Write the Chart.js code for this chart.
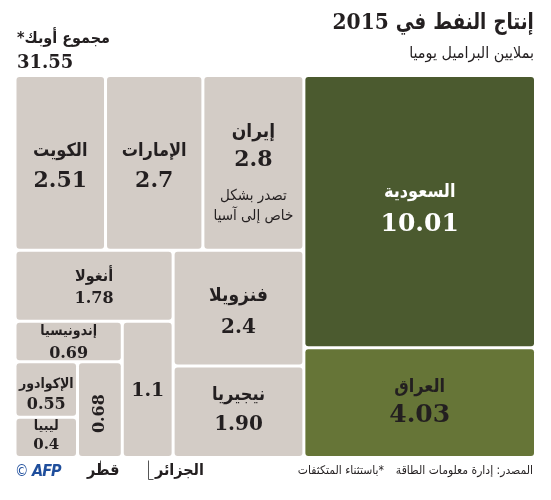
<!DOCTYPE html>
<html><head><meta charset="utf-8">
<script src="https://cdn.jsdelivr.net/npm/chart.js@4"></script>
<style>
html,body{margin:0;padding:0;background:#fff;}
#wrap{position:relative;width:551px;height:500px;overflow:hidden;}
canvas{position:absolute;left:0;top:0;}
.t{position:absolute;white-space:nowrap;color:#231f20;font-family:"DejaVu Serif","DejaVu Sans Condensed","DejaVu Sans",sans-serif;line-height:1;}
.a{font-family:"DejaVu Sans Condensed","DejaVu Sans",sans-serif;}
</style></head><body>
<div id="wrap">
<canvas id="c" width="551" height="500"></canvas>
<div class="t" dir="rtl" style="right:17px;top:9px;font-size:23px;font-weight:bold;transform:scaleX(0.88);transform-origin:right center;">إنتاج النفط في 2015</div>
<div class="t a" dir="rtl" style="right:17px;top:45px;font-size:16px;">بملايين البراميل يوميا</div>
<div class="t a" dir="rtl" style="left:17px;top:30px;font-size:16px;font-weight:bold;">مجموع أوبك*</div>
<div class="t" style="left:17px;top:53px;font-size:18px;font-weight:bold;">31.55</div>
<div class="t a" dir="rtl" style="right:18px;top:464px;font-size:12px;">المصدر: إدارة معلومات الطاقة</div>
<div class="t a" dir="rtl" style="right:167px;top:464px;font-size:12px;">*باستثناء المتكثفات</div>
<div class="t a" dir="rtl" style="left:155px;top:462px;font-size:16px;font-weight:bold;">الجزائر</div>
<div class="t a" dir="rtl" style="left:87px;top:462px;font-size:16px;font-weight:bold;">قطر</div>
<div class="t a" style="left:15px;top:464px;font-size:15px;color:#1f4e9c;">©</div>
<div class="t a" style="left:32px;top:463px;font-size:16px;font-weight:bold;font-style:italic;color:#1f4e9c;letter-spacing:-1px;">AFP</div>
</div>
<script>
// ---- data ----
const countries = ['السعودية','العراق','إيران','الإمارات','الكويت','فنزويلا','نيجيريا','أنغولا','الجزائر','إندونيسيا','قطر','الإكوادور','ليبيا'];
const values    = [10.01, 4.03, 2.8, 2.7, 2.51, 2.4, 1.90, 1.78, 1.1, 0.69, 0.68, 0.55, 0.4];
const valueLabels = ['10.01','4.03','2.8','2.7','2.51','2.4','1.90','1.78','1.1','0.69','0.68','0.55','0.4'];
const notes = {2: ['تصدر بشكل','خاص إلى آسيا']};
const outsideNames = [8, 10]; // names written below the treemap

// arrangement: 'row' splits left->right, 'col' splits top->bottom; leaves are indices
const tree = ['row',
  ['col',
    ['row', 4, 3, 2],
    ['row',
      ['col', 7,
        ['row',
          ['col', 9, ['row', ['col', 11, 12], 10]],
          8]],
      ['col', 5, 6]]],
  ['col', 0, 1]];

// ---- styles ----
const grey = '#d3ccc6', saudi = '#4b5a2f', iraq = '#667537';
const fills = values.map((v,i)=> i===0 ? saudi : (i===1 ? iraq : grey));
const AR = '"DejaVu Sans Condensed", "DejaVu Sans", sans-serif', NUM = '"DejaVu Serif", serif';
const labelStyle = {
  0:{ns:18,nd:-19,vs:25,vd:13,c:'#ffffff'},
  1:{ns:18,nd:-15,vs:25,vd:13,c:'#231f20'},
  2:{ns:19,nd:-31,vs:22,vd:-3,c:'#231f20',ts:15,td:[33,53]},
  3:{ns:18,nd:-12,vs:22,vd:18,c:'#231f20'},
  4:{ns:18,nd:-12,vs:22,vd:18,c:'#231f20'},
  5:{ns:19,nd:-12,vs:20,vd:20,c:'#231f20'},
  6:{ns:18,nd:-16,vs:20,vd:13,c:'#231f20'},
  7:{ns:16,nd:-9,vs:16,vd:13,c:'#231f20'},
  8:{vs:19,vd:2,c:'#231f20'},
  9:{ns:14,nd:-10,vs:16,vd:12,c:'#231f20'},
  10:{vs:16,vd:4,c:'#231f20',rot:true},
  11:{ns:14,nd:-5,vs:16,vd:15,c:'#231f20'},
  12:{ns:14,nd:-11,vs:15,vd:8,c:'#231f20'}
};

function nodeSum(n){ return Array.isArray(n) ? n.slice(1).reduce((s,c)=>s+nodeSum(c),0) : values[n]; }
const rects = [];
function layout(n, x0, y0, x1, y1){
  if(!Array.isArray(n)){ rects[n] = {x0,y0,x1,y1}; return; }
  const kids = n.slice(1), tot = nodeSum(n);
  let acc = 0;
  kids.forEach(k=>{
    const f0 = acc/tot; acc += nodeSum(k); const f1 = acc/tot;
    if(n[0]==='row') layout(k, x0+(x1-x0)*f0, y0, x0+(x1-x0)*f1, y1);
    else layout(k, x0, y0+(y1-y0)*f0, x1, y0+(y1-y0)*f1);
  });
}
layout(tree, 0, 0, 1, 1);

const treemapPlugin = {
  id:'treemap',
  afterDatasetsDraw(chart){
    const xs = chart.scales.x, ys = chart.scales.y, ctx = chart.ctx;
    const g = 1.5;
    ctx.save();
    rects.forEach((r,i)=>{
      const X0 = xs.getPixelForValue(r.x0)+g, X1 = xs.getPixelForValue(r.x1)-g;
      const Y0 = ys.getPixelForValue(r.y0)+g, Y1 = ys.getPixelForValue(r.y1)-g;
      ctx.fillStyle = fills[i];
      ctx.beginPath(); ctx.roundRect(X0, Y0, X1-X0, Y1-Y0, 3); ctx.fill();
      const cx = (X0+X1)/2, cy = (Y0+Y1)/2, s = labelStyle[i];
      ctx.fillStyle = s.c; ctx.textAlign = 'center'; ctx.textBaseline = 'middle';
      if(s.ns && !outsideNames.includes(i)){
        ctx.direction = 'rtl';
        ctx.font = 'bold '+s.ns+'px '+AR;
        ctx.fillText(countries[i], cx, cy+s.nd);
      }
      ctx.direction = 'ltr';
      ctx.font = 'bold '+s.vs+'px '+NUM;
      if(s.rot){
        ctx.save(); ctx.translate(cx, cy+s.vd); ctx.rotate(-Math.PI/2);
        ctx.fillText(valueLabels[i], 0, 0); ctx.restore();
      } else ctx.fillText(valueLabels[i], cx, cy+s.vd);
      if(notes[i]){
        ctx.direction = 'rtl';
        ctx.font = s.ts+'px '+AR;
        notes[i].forEach((t,k)=> ctx.fillText(t, cx, cy+s.td[k]));
      }
    });
    ctx.strokeStyle = '#555'; ctx.lineWidth = 1;
    outsideNames.forEach(i=>{
      const r = rects[i];
      const cx = Math.round((xs.getPixelForValue(r.x0)+xs.getPixelForValue(r.x1))/2)+0.5;
      const by = ys.getPixelForValue(r.y1)+3;
      ctx.beginPath();
      if(i===10){ ctx.moveTo(cx, by); ctx.lineTo(cx, by+10); }
      else { ctx.moveTo(cx, by); ctx.lineTo(cx, by+19); ctx.lineTo(cx+5, by+19); }
      ctx.stroke();
    });
    ctx.restore();
  }
};

new Chart(document.getElementById('c'), {
  type:'scatter',
  data:{datasets:[{data:[], pointRadius:0}]},
  options:{
    responsive:false, animation:false,
    layout:{padding:{left:15, right:15.5, top:75.5, bottom:42.5}},
    plugins:{legend:{display:false}, tooltip:{enabled:false}, title:{display:false}},
    scales:{
      x:{type:'linear', min:0, max:1, display:false},
      y:{type:'linear', min:0, max:1, reverse:true, display:false}
    }
  },
  plugins:[treemapPlugin]
});
</script>
</body></html>
